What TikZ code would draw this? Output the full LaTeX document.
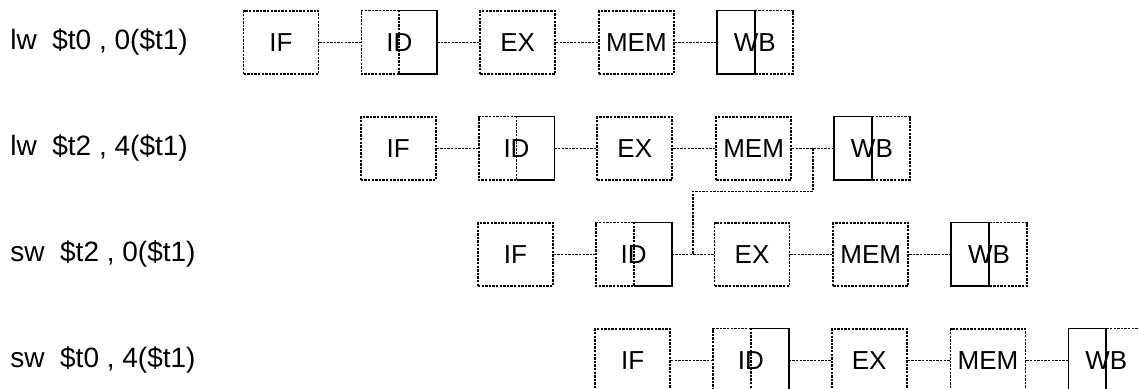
\documentclass[tikz,border=0pt]{standalone}
\usepackage{fontspec}
\setmainfont{Liberation Sans}
\usetikzlibrary{
  positioning
}
\tikzset{
  dotline/.style={line width=0.9pt, dash pattern=on 1.2pt off 0.6pt},
  fullline/.style={line width=0.9pt},
  stagebox/.style={minimum width=37.5pt, minimum height=31.5pt, inner sep=0pt,
    font=\fontsize{13}{13}\selectfont},
  instr/.style={anchor=west, inner sep=0pt, font=\fontsize{14}{14}\selectfont}
}

\begin{document}
\begin{tikzpicture}[x=0.5pt, y=-0.5pt]
  \def\Xo{281};
  \def\Dx{117.2};
  \def\Yo{42.5};
  \def\Dy{106};
  \useasboundingbox (0,0) rectangle (1139,389);

  \foreach \r/\code in {0/{lw\ \ \$t0 , 0(\$t1)}, 1/{lw\ \ \$t2 , 4(\$t1)},
                        2/{sw\ \ \$t2 , 0(\$t1)}, 3/{sw\ \ \$t0 , 4(\$t1)}} {
        \node[instr] (ins\r) at (10, \Yo + \r*\Dy) {\code};

        \node[stagebox, draw, dotline] (if\r) at (\Xo + \r*\Dx, \Yo + \r*\Dy) {IF};
        \node[stagebox, right=21pt of if\r] (id\r) {ID};
        \node[stagebox, draw, dotline, right=21pt of id\r] (ex\r) {EX};
        \node[stagebox, draw, dotline, right=21pt of ex\r] (mem\r) {MEM};
        \node[stagebox, right=21pt of mem\r] (wb\r) {WB};

	\draw[fullline] (id\r.north) -- (id\r.north east) -- (id\r.south east) -- (id\r.south);
	\draw[dotline] (id\r.north) -- (id\r.north west) -- (id\r.south west) -- (id\r.south) -- cycle;
	\draw[dotline] (wb\r.north) -- (wb\r.north east) -- (wb\r.south east) -- (wb\r.south);
	\draw[fullline] (wb\r.north) -- (wb\r.north west) -- (wb\r.south west) -- (wb\r.south) -- cycle;

        \draw[dotline] (if\r) -- (id\r);
        \draw[dotline] (id\r) -- (ex\r);
        \draw[dotline] (ex\r) -- (mem\r);
        \draw[dotline] (mem\r) -- (wb\r);
  }

  \coordinate[right=10.5pt of mem1] (fwdtop);
  \coordinate[right=10.5pt of id2] (fwdbot);
  \draw[dotline] (fwdtop) -- ++(0,43) -| (fwdbot);
\end{tikzpicture}
\end{document}
